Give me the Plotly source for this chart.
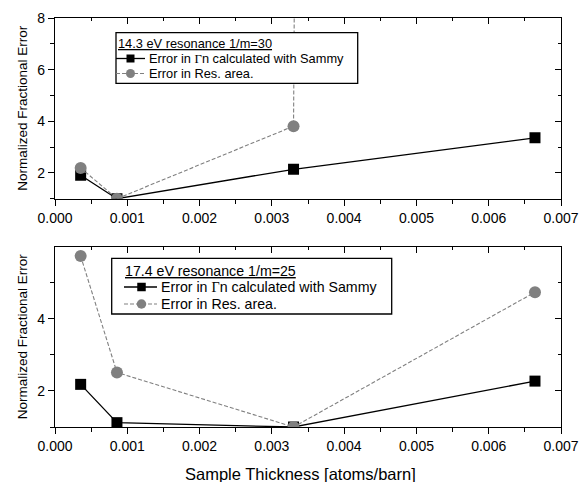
import plotly.graph_objects as go

# ---- data ----
x_thick = [0.000355, 0.000857, 0.0033, 0.00664]

top_gamma = [1.91, 1.0, 2.14, 3.36]
top_area = [2.19, 1.0, 3.81, 1500.0]   # last point far off-scale

bot_gamma = [2.18, 1.12, 1.0, 2.27]
bot_area = [5.73, 2.51, 1.0, 4.73]

top_title = "14.3 eV resonance 1/m=30"
bot_title = "17.4 eV resonance 1/m=25"
name_gamma = "Error in <span style=\"font-family:'Liberation Serif'\">Γ</span>n calculated with Sammy"
name_area = "Error in Res. area."

x_title = "Sample Thickness [atoms/barn]"
y_title = "Normalized Fractional Error"

FONT = "Liberation Sans, Arial, sans-serif"
GRAY = "#808080"

W, H = 580, 482
ML, MR, MT, MB = 55, 19, 18, 55
PW, PH = W - ML - MR, H - MT - MB

def px(X):
    return (X - ML) / PW

def py(Y):
    return (H - MB - Y) / PH

fig = go.Figure()

def add_series(xa, ya, gam, area):
    fig.add_trace(go.Scatter(
        x=x_thick, y=gam, mode="lines+markers", name="gamma",
        xaxis=xa, yaxis=ya, showlegend=False,
        line=dict(color="black", width=1.3),
        marker=dict(symbol="square", size=11, color="black"),
    ))
    fig.add_trace(go.Scatter(
        x=x_thick, y=area, mode="lines+markers", name="area",
        xaxis=xa, yaxis=ya, showlegend=False,
        line=dict(color=GRAY, width=1.1, dash="4px,2px"),
        marker=dict(symbol="circle", size=12, color=GRAY),
    ))

add_series("x", "y", top_gamma, top_area)
add_series("x2", "y2", bot_gamma, bot_area)

# dummy traces to activate mirror axes
for xa, ya in [("x3", "y3"), ("x4", "y4")]:
    fig.add_trace(go.Scatter(x=[None], y=[None], xaxis=xa, yaxis=ya,
                             showlegend=False, hoverinfo="skip"))

top_dom = [py(198.7), 1.0]
bot_dom = [0.0, py(246.7)]

TF = 14
xcommon = dict(range=[0, 0.007], dtick=0.001, tick0=0, tickformat=".3f",
               showgrid=False, zeroline=False, showline=True, linecolor="black",
               linewidth=1.3, mirror=True, ticks="outside", ticklen=6,
               tickwidth=1.2, tickcolor="black", automargin=False,
               minor=dict(dtick=0.0005, ticks="outside", ticklen=4,
                          tickwidth=1.2, tickcolor="black"),
               tickfont=dict(family=FONT, size=TF, color="black"))
ycommon = dict(dtick=2, tick0=0, showgrid=False, zeroline=False,
               showline=True, linecolor="black", linewidth=1.3, mirror=True,
               ticks="outside", ticklen=6, tickwidth=1.2, tickcolor="black",
               automargin=False,
               minor=dict(dtick=1, ticks="outside", ticklen=4,
                          tickwidth=1.2, tickcolor="black"),
               tickfont=dict(family=FONT, size=TF, color="black"),
               title=dict(text=y_title, font=dict(family=FONT, size=13.5, color="black"),
                          standoff=6))

mir_x = dict(range=[0, 0.007], dtick=0.001, tick0=0, showgrid=False,
             zeroline=False, showline=False, ticks="inside", ticklen=6,
             tickwidth=1.2, tickcolor="black", showticklabels=False,
             automargin=False,
             minor=dict(dtick=0.0005, ticks="inside", ticklen=3,
                        tickwidth=1.2, tickcolor="black"))
mir_y = dict(dtick=2, tick0=0, showgrid=False, zeroline=False, showline=False,
             ticks="inside", ticklen=6, tickwidth=1.2, tickcolor="black",
             showticklabels=False, automargin=False,
             minor=dict(dtick=1, ticks="inside", ticklen=3,
                        tickwidth=1.2, tickcolor="black"))

shapes = []
annotations = []

def legend_box(x0, y0, x1, y1, title, title_x, title_y, rows, size,
               line_x0, line_x1, mark_x, text_x, sq, circ):
    shapes.append(dict(type="rect", xref="paper", yref="paper",
                       x0=px(x0), x1=px(x1), y0=py(y1), y1=py(y0),
                       line=dict(color="black", width=1.3),
                       fillcolor="white", layer="above"))
    annotations.append(dict(xref="paper", yref="paper", x=px(title_x), y=py(title_y),
                            xanchor="left", yanchor="middle", showarrow=False,
                            text="<u>" + title + "</u>", borderpad=0,
                            font=dict(family=FONT, size=size, color="black")))
    (ry1, ry2) = rows
    # row 1: black solid with square
    shapes.append(dict(type="line", xref="paper", yref="paper",
                       x0=px(line_x0), x1=px(line_x1), y0=py(ry1), y1=py(ry1),
                       line=dict(color="black", width=1.3), layer="above"))
    shapes.append(dict(type="rect", xref="paper", yref="paper",
                       x0=px(mark_x - sq / 2), x1=px(mark_x + sq / 2),
                       y0=py(ry1 + sq / 2), y1=py(ry1 - sq / 2),
                       line=dict(width=0), fillcolor="black", layer="above"))
    annotations.append(dict(xref="paper", yref="paper", x=px(text_x), y=py(ry1),
                            xanchor="left", yanchor="middle", showarrow=False,
                            text=name_gamma, borderpad=0,
                            font=dict(family=FONT, size=size, color="black")))
    # row 2: gray dashed with circle
    shapes.append(dict(type="line", xref="paper", yref="paper",
                       x0=px(line_x0), x1=px(line_x1), y0=py(ry2), y1=py(ry2),
                       line=dict(color=GRAY, width=1.1, dash="4px,2px"), layer="above"))
    shapes.append(dict(type="circle", xref="paper", yref="paper",
                       x0=px(mark_x - circ / 2), x1=px(mark_x + circ / 2),
                       y0=py(ry2 + circ / 2), y1=py(ry2 - circ / 2),
                       line=dict(width=0), fillcolor=GRAY, layer="above"))
    annotations.append(dict(xref="paper", yref="paper", x=px(text_x), y=py(ry2),
                            xanchor="left", yanchor="middle", showarrow=False,
                            text=name_area, borderpad=0,
                            font=dict(family=FONT, size=size, color="black")))

legend_box(116, 32.7, 357.7, 83.3, top_title, 116.5, 43.5, (58.5, 73.5), 12.8,
           116, 145, 130.5, 148, 8, 9)
legend_box(111.7, 258.3, 391.7, 314, bot_title, 123.5, 270.5, (287, 304), 14.2,
           124, 157, 141.5, 160, 8.5, 9.5)

# x-axis title (placed slightly left of centre, as in the reference)
annotations.append(dict(xref="paper", yref="paper", x=px(300.5), y=py(474),
                        xanchor="center", yanchor="middle", showarrow=False,
                        text=x_title, borderpad=0,
                        font=dict(family=FONT, size=16.5, color="black")))

fig.update_layout(
    width=W, height=H,
    margin=dict(l=ML, r=MR, t=MT, b=MB),
    paper_bgcolor="white", plot_bgcolor="white",
    font=dict(family=FONT, color="black"),
    xaxis=dict(**xcommon, anchor="y", domain=[0, 1]),
    yaxis=dict(**ycommon, anchor="x", domain=top_dom, range=[1, 8]),
    xaxis2=dict(**xcommon, anchor="y2", domain=[0, 1]),
    yaxis2=dict(**ycommon, anchor="x2", domain=bot_dom, range=[1, 5.99]),
    xaxis3=dict(**mir_x, overlaying="x", side="top", anchor="y"),
    yaxis3=dict(**mir_y, overlaying="y", side="right", anchor="x", range=[1, 8]),
    xaxis4=dict(**mir_x, overlaying="x2", side="top", anchor="y2"),
    yaxis4=dict(**mir_y, overlaying="y2", side="right", anchor="x2", range=[1, 5.99]),
    shapes=shapes,
    annotations=annotations,
    showlegend=False,
)

fig.write_html("out.html")
